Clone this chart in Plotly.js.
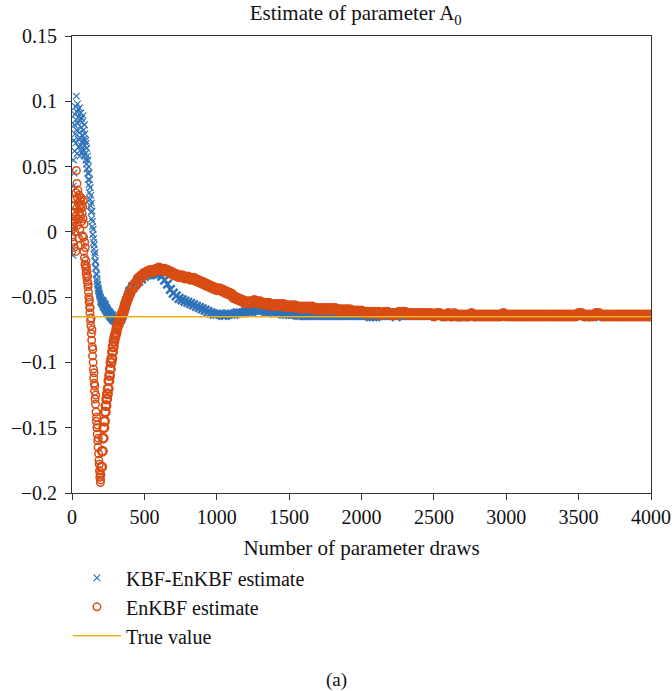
<!DOCTYPE html>
<html>
<head>
<meta charset="utf-8">
<script src="https://cdn.plot.ly/plotly-3.0.1.min.js"></script>
<style>html,body{margin:0;padding:0;background:#fff;}#chart{width:672px;height:691px;}</style>
</head>
<body>
<div id="chart"></div>
<script>
// ---------- data ----------
// draw spacing of each sampled block
const earlyStart = 0,   earlyStep = 2;    // draws 0..200
const midStart   = 205, midStep   = 5;    // draws 205..400
const lateStart  = 420, lateStep  = 20;   // draws 420..4000

// KBF-EnKBF estimate
const kbfEarly = [
  0.000,-0.012,0.010,-0.018,0.035,
  0.055,0.070,0.045,0.082,0.062,0.090,0.075,0.096,0.068,0.086,
  0.104,0.078,0.092,0.060,0.098,0.083,0.071,0.094,0.065,0.088,
  0.076,0.095,0.058,0.085,0.072,0.091,0.066,0.080,0.087,0.061,
  0.084,0.074,0.069,0.089,0.063,0.078,0.071,0.058,0.082,0.066,
  0.075,0.060,0.070,0.055,0.068,0.052,0.064,0.048,0.058,0.045,
  0.055,0.040,0.050,0.036,0.045,0.030,0.040,0.025,0.034,0.020,
  0.028,0.015,0.022,0.010,0.016,0.004,0.008,-0.002,0.002,-0.008,
  -0.005,-0.013,-0.010,-0.018,-0.016,-0.023,-0.022,-0.028,-0.027,-0.032,
  -0.033,-0.036,-0.038,-0.040,-0.041,-0.043,-0.044,-0.045,-0.046,-0.047,
  -0.048,-0.049,-0.050,-0.050,-0.051,-0.052
];
const kbfMid = [
  -0.053,-0.054,-0.055,-0.057,-0.056,-0.058,-0.059,-0.060,-0.061,-0.062,
  -0.062,-0.063,-0.064,-0.065,-0.064,-0.066,-0.067,-0.066,-0.068,-0.067,
  -0.068,-0.069,-0.068,-0.067,-0.068,-0.067,-0.066,-0.067,-0.065,-0.064,
  -0.062,-0.060,-0.058,-0.056,-0.054,-0.052,-0.050,-0.048,-0.046,-0.045
];
const kbfLate = [
  -0.042,-0.040,-0.038,-0.036,-0.034,-0.033,-0.033,-0.032,-0.032,-0.032,
  -0.034,-0.037,-0.040,-0.044,-0.047,-0.049,-0.051,-0.052,-0.053,-0.054,
  -0.055,-0.056,-0.057,-0.058,-0.059,-0.060,-0.061,-0.062,-0.063,-0.063,
  -0.063,-0.064,-0.064,-0.063,-0.063,-0.063,-0.062,-0.062,-0.062,-0.061,
  -0.061,-0.061,-0.060,-0.060,-0.060,-0.060,-0.061,-0.061,-0.061,-0.062,
  -0.062,-0.062,-0.063,-0.063,-0.063,-0.063,-0.063,-0.064,-0.064,-0.064,
  -0.064,-0.064,-0.064,-0.064,-0.064,-0.064,-0.064,-0.064,-0.064,-0.064,
  -0.064,-0.064,-0.064,-0.064,-0.064,-0.064,-0.064,-0.064,-0.064,-0.064,
  -0.064,-0.064,-0.065,-0.065,-0.065,-0.064,-0.064,-0.064,-0.064,-0.064,
  -0.064,-0.065,-0.064,-0.064,-0.064,-0.064,-0.064,-0.064,-0.064,-0.064,
  -0.064,-0.064,-0.064,-0.064,-0.064,-0.064,-0.064,-0.064,-0.064,-0.064,
  -0.064,-0.065,-0.065,-0.064,-0.065,-0.064,-0.064,-0.065,-0.064,-0.064,
  -0.064,-0.064,-0.064,-0.064,-0.064,-0.064,-0.064,-0.064,-0.064,-0.064,
  -0.064,-0.064,-0.064,-0.064,-0.064,-0.064,-0.064,-0.064,-0.064,-0.064,
  -0.064,-0.064,-0.064,-0.064,-0.064,-0.064,-0.064,-0.064,-0.064,-0.064,
  -0.064,-0.064,-0.064,-0.064,-0.064,-0.064,-0.064,-0.064,-0.064,-0.065,
  -0.064,-0.064,-0.064,-0.064,-0.064,-0.064,-0.064,-0.064,-0.064,-0.064,
  -0.064,-0.064,-0.064,-0.064,-0.064,-0.064,-0.064,-0.064,-0.064,-0.064
];

// EnKBF estimate
const enkbfEarly = [
  0.002,-0.004,0.006,0.010,-0.008,0.004,0.015,-0.012,0.008,0.020,
  0.000,0.025,0.012,-0.015,0.030,0.047,0.018,0.037,0.005,0.026,
  0.032,0.010,0.022,-0.005,0.028,0.015,0.020,0.002,0.024,0.012,
  -0.010,0.018,0.026,0.008,0.021,0.014,-0.003,0.019,0.010,0.024,
  -0.004,-0.015,0.006,-0.020,-0.008,-0.025,-0.012,-0.028,-0.022,-0.032,
  -0.026,-0.035,-0.030,-0.038,-0.034,-0.042,-0.040,-0.046,-0.050,-0.054,
  -0.052,-0.058,-0.062,-0.058,-0.068,-0.072,-0.066,-0.078,-0.083,-0.075,
  -0.088,-0.095,-0.090,-0.100,-0.105,-0.112,-0.108,-0.116,-0.122,-0.118,
  -0.128,-0.132,-0.125,-0.138,-0.145,-0.142,-0.150,-0.155,-0.148,-0.160,
  -0.165,-0.158,-0.170,-0.175,-0.178,-0.183,-0.188,-0.185,-0.192,-0.190,
  -0.186
];
const enkbfMid = [
  -0.180,-0.168,-0.158,-0.150,-0.145,-0.138,-0.133,-0.128,-0.124,-0.120,
  -0.114,-0.110,-0.105,-0.100,-0.097,-0.092,-0.088,-0.084,-0.081,-0.079,
  -0.077,-0.074,-0.072,-0.071,-0.069,-0.068,-0.066,-0.065,-0.063,-0.062,
  -0.061,-0.059,-0.057,-0.055,-0.054,-0.052,-0.051,-0.049,-0.048,-0.047
];
const enkbfLate = [
  -0.043,-0.040,-0.036,-0.034,-0.032,-0.031,-0.030,-0.030,-0.029,-0.028,
  -0.029,-0.029,-0.030,-0.031,-0.032,-0.033,-0.034,-0.034,-0.035,-0.035,
  -0.036,-0.036,-0.037,-0.038,-0.039,-0.040,-0.041,-0.042,-0.043,-0.044,
  -0.044,-0.045,-0.046,-0.047,-0.048,-0.050,-0.051,-0.052,-0.053,-0.054,
  -0.054,-0.054,-0.053,-0.054,-0.054,-0.055,-0.055,-0.055,-0.056,-0.056,
  -0.056,-0.056,-0.056,-0.057,-0.057,-0.057,-0.057,-0.058,-0.058,-0.058,
  -0.058,-0.058,-0.058,-0.059,-0.059,-0.059,-0.059,-0.059,-0.059,-0.059,
  -0.059,-0.060,-0.060,-0.060,-0.060,-0.060,-0.061,-0.061,-0.061,-0.061,
  -0.062,-0.062,-0.062,-0.062,-0.062,-0.062,-0.063,-0.062,-0.062,-0.063,
  -0.063,-0.063,-0.062,-0.062,-0.062,-0.063,-0.063,-0.063,-0.063,-0.063,
  -0.063,-0.063,-0.063,-0.063,-0.064,-0.063,-0.063,-0.064,-0.064,-0.063,
  -0.064,-0.063,-0.064,-0.064,-0.064,-0.064,-0.064,-0.063,-0.064,-0.064,
  -0.064,-0.064,-0.064,-0.064,-0.064,-0.064,-0.064,-0.064,-0.063,-0.064,
  -0.064,-0.064,-0.064,-0.064,-0.064,-0.064,-0.064,-0.064,-0.064,-0.064,
  -0.064,-0.064,-0.064,-0.064,-0.064,-0.064,-0.064,-0.064,-0.064,-0.064,
  -0.064,-0.064,-0.064,-0.064,-0.063,-0.063,-0.064,-0.064,-0.064,-0.064,
  -0.063,-0.063,-0.064,-0.064,-0.064,-0.064,-0.064,-0.064,-0.064,-0.064,
  -0.064,-0.064,-0.064,-0.064,-0.064,-0.064,-0.064,-0.064,-0.064,-0.064
];

// True value
const trueX = [0, 4000];
const trueY = [-0.065, -0.065];

const xTicks = [0, 500, 1000, 1500, 2000, 2500, 3000, 3500, 4000];
const yTicks = [0.15, 0.1, 0.05, 0, -0.05, -0.1, -0.15, -0.2];

// ---------- styling ----------
const BLUE = '#2e72b8', ORANGE = '#d84c14', YELLOW = '#EDB120';
const FONT = 'Liberation Serif';

function blueTrace(y, x0, dx, lw, size, show) {
  return {type: 'scatter', mode: 'markers', y: y, x0: x0, dx: dx,
    name: 'KBF-EnKBF estimate', legendgroup: 'kbf', showlegend: show,
    marker: {symbol: 'x-thin-open', size: size, color: BLUE,
             line: {color: BLUE, width: lw}}};
}
function orangeTrace(y, x0, dx, lw, size, show) {
  return {type: 'scatter', mode: 'markers', y: y, x0: x0, dx: dx,
    name: 'EnKBF estimate', legendgroup: 'enkbf', showlegend: show,
    marker: {symbol: 'circle-open', size: size, color: ORANGE,
             line: {color: ORANGE, width: lw}}};
}

const data = [
  blueTrace(kbfEarly, earlyStart, earlyStep, 1.2, 6.5, true),
  blueTrace(kbfMid, midStart, midStep, 2, 8, false),
  blueTrace(kbfLate, lateStart, lateStep, 2.5, 8.5, false),
  orangeTrace(enkbfEarly, earlyStart, earlyStep, 1.5, 7.5, true),
  orangeTrace(enkbfMid, midStart, midStep, 2.5, 8.5, false),
  orangeTrace(enkbfLate, lateStart, lateStep, 3, 9, false),
  {type: 'scatter', mode: 'lines', x: trueX, y: trueY, name: 'True value',
   line: {color: YELLOW, width: 1.5}}
];

const axisCommon = {showgrid: false, zeroline: false, showline: true, mirror: true,
  linecolor: '#333', linewidth: 1, ticks: 'outside', ticklen: 6, tickwidth: 1,
  tickcolor: '#333', tickfont: {family: FONT, size: 20, color: '#111'}, automargin: false};

const layout = {
  width: 672, height: 691,
  margin: {l: 72, r: 21, t: 36, b: 198},
  paper_bgcolor: '#fff', plot_bgcolor: '#fff',
  font: {family: FONT, size: 20, color: '#111'},
  title: {text: 'Estimate of parameter A<sub>0</sub>', font: {family: FONT, size: 21, color: '#111'},
          xref: 'paper', x: 0.49, xanchor: 'center', yref: 'container', y: 0.981, yanchor: 'middle'},
  xaxis: Object.assign({}, axisCommon, {range: [0, 4000], tickvals: xTicks, ticktext: xTicks.map(String),
          title: {text: 'Number of parameter draws', font: {family: FONT, size: 21, color: '#111'}, standoff: 13}}),
  yaxis: Object.assign({}, axisCommon, {range: [-0.2, 0.15], tickvals: yTicks,
          ticktext: yTicks.map(v => v < 0 ? '\u2212' + String(-v) : String(v)), ticklabelstandoff: 4}),
  showlegend: true,
  legend: {orientation: 'v', x: -0.007, xanchor: 'left', y: -0.143, yanchor: 'top',
           xref: 'paper', yref: 'paper', itemwidth: 48,
           font: {family: FONT, size: 20, color: '#111'}, bgcolor: 'rgba(0,0,0,0)', traceorder: 'normal'},
  annotations: [{text: '(a)', xref: 'paper', yref: 'paper', x: 0.456, y: -0.409,
                 xanchor: 'center', yanchor: 'middle', showarrow: false,
                 font: {family: FONT, size: 19, color: '#111'}}]
};

Plotly.newPlot('chart', data, layout, {staticPlot: true, displayModeBar: false});
</script>
</body>
</html>
